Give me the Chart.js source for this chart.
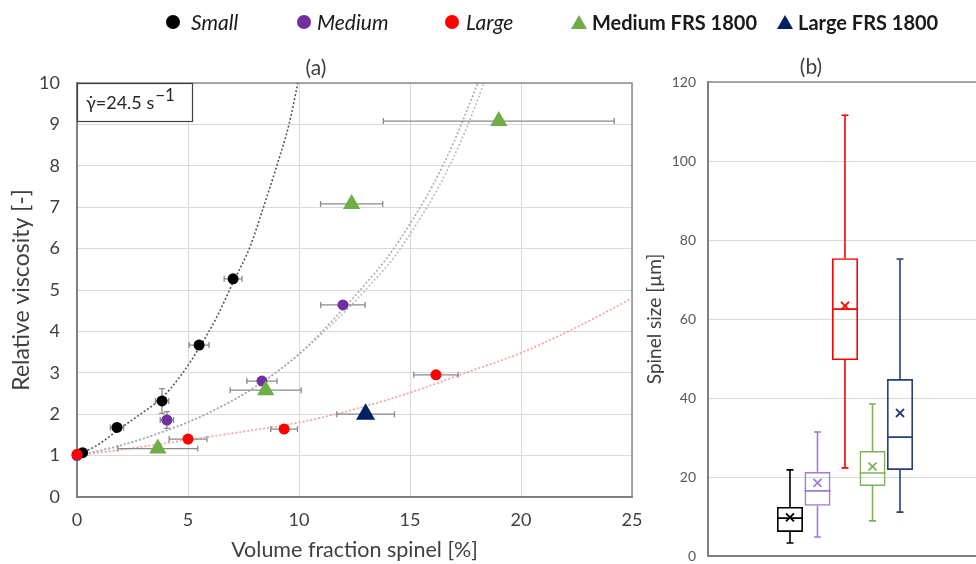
<!DOCTYPE html>
<html>
<head>
<meta charset="utf-8">
<script src="https://cdn.jsdelivr.net/npm/chart.js@4.4.1/dist/chart.umd.min.js"></script>
<style>
html,body{margin:0;padding:0;background:#fff;overflow:hidden;width:976px;height:564px;position:relative;font-family:Lato,sans-serif;}
#ca{position:absolute;left:0;top:0;}
#cb{position:absolute;left:640px;top:0;}
.lgt{position:absolute;top:10px;height:24px;line-height:24px;font-size:21px;color:#1a1a1a;white-space:nowrap;}
.dot{position:absolute;width:14px;height:14px;border-radius:50%;top:15px;}
.tri{position:absolute;width:0;height:0;border-left:8px solid transparent;border-right:8px solid transparent;border-bottom-width:14px;border-bottom-style:solid;top:15px;}
</style>
</head>
<body>
<canvas id="ca" width="660" height="564"></canvas>
<canvas id="cb" width="390" height="564"></canvas>
<div id="legend"></div>
<script>
// ---------- series names / colours ----------
const seriesNames = ['Small', 'Medium', 'Large', 'Medium FRS 1800', 'Large FRS 1800'];
const seriesColors = ['#000000', '#7030a0', '#ff0000', '#70ad47', '#002060'];
const boxColors = ['#000000', '#a07ad6', '#ff0000', '#7fb05c', '#2a3d7a'];

// ---------- panel (a) data: volume fraction [%], relative viscosity [-] ----------
const smallX = [0.25, 1.8, 3.83, 5.5, 7.03];
const smallY = [1.07, 1.68, 2.32, 3.67, 5.27];
const smallXErr = [0.2, 0.3, 0.3, 0.45, 0.4];
const smallYErr = [0, 0, 0.3, 0, 0];

const mediumX = [0, 4.05, 8.33, 11.98];
const mediumY = [1.0, 1.86, 2.8, 4.64];
const mediumXErr = [0, 0.3, 0.68, 1.0];
const mediumYErr = [0, 0.2, 0, 0];

const largeX = [0, 5.0, 9.33, 16.17];
const largeY = [1.03, 1.4, 1.64, 2.95];
const largeXErr = [0, 0.85, 0.6, 1.0];

const mFrsX = [3.64, 8.5, 12.37, 19.0];
const mFrsY = [1.17, 2.58, 7.08, 9.08];
const mFrsXErr = [1.8, 1.6, 1.4, 5.2];

const lFrsX = [13.0];
const lFrsY = [2.0];
const lFrsXErr = [1.3];

// fitted curves
const smallFitX = [0, 1, 1.8, 2.8, 3.83, 4.7, 5.5, 6.3, 7.0, 7.8, 8.4, 9.0, 9.55, 9.95];
const smallFitY = [1.0, 1.28, 1.6, 1.98, 2.4, 2.95, 3.6, 4.35, 5.15, 6.05, 7.0, 8.0, 9.0, 10.0];
const medFitAX = [0, 2, 4, 6, 8, 10, 12, 13, 14, 15, 16, 17, 17.5, 18.06];
const medFitBX = [0, 2, 4, 6, 8, 10, 12.2, 13.25, 14.3, 15.3, 16.3, 17.3, 17.8, 18.33];
const medFitY = [1.0, 1.25, 1.6, 2.05, 2.65, 3.45, 4.55, 5.15, 5.8, 6.6, 7.5, 8.6, 9.25, 10.0];
const largeFitX = [0, 2.5, 5, 7.5, 10, 12.5, 15, 17.5, 20, 22.5, 25];
const largeFitY = [1.0, 1.18, 1.38, 1.58, 1.8, 2.12, 2.52, 3.0, 3.48, 4.1, 4.8];

// axis ticks
const xTickStep = 5, xMin = 0, xMax = 25;
const yTickStep = 1, yMin = 0, yMax = 10;

// ---------- panel (b) box-plot data: spinel size [µm] ----------
const boxMin = [3.3, 4.8, 22.3, 8.9, 11.1];
const boxQ1 = [6.1, 12.7, 49.6, 17.7, 21.8];
const boxMedian = [9.6, 16.5, 62.5, 21.0, 30.1];
const boxMean = [9.8, 18.5, 63.3, 22.6, 36.2];
const boxQ3 = [12.4, 21.3, 75.4, 26.6, 44.8];
const boxMax = [21.8, 31.4, 111.6, 38.5, 75.2];
const bTickStep = 20, bMin = 0, bMax = 120;

const FONT = 'Lato';

// ---------- legend (HTML) ----------
const legendMarkerX = [173, 304, 452, 579, 785];
const legendTextX = [191, 317, 466, 592, 798];
const legendStyle = ['italic', 'italic', 'italic', 'bold', 'bold'];
const legendShape = ['dot', 'dot', 'dot', 'tri', 'tri'];
const lg = document.getElementById('legend');
seriesNames.forEach((n, i) => {
  const m = document.createElement('div');
  m.className = legendShape[i];
  if (legendShape[i] === 'dot') { m.style.left = (legendMarkerX[i] - 7) + 'px'; m.style.background = seriesColors[i]; }
  else { m.style.left = (legendMarkerX[i] - 8) + 'px'; m.style.borderBottomColor = seriesColors[i]; }
  lg.appendChild(m);
  const t = document.createElement('div');
  t.className = 'lgt';
  t.textContent = n;
  t.style.left = legendTextX[i] + 'px';
  if (legendStyle[i] === 'italic') t.style.fontStyle = 'italic'; else { t.style.fontWeight = 'bold'; t.style.fontSize = '20px'; }
  lg.appendChild(t);
});

function pts(xs, ys) { return xs.map((x, i) => ({ x: x, y: ys[i] })); }

// ---------- plugins ----------
const errorBars = {
  id: 'errorBars',
  beforeDatasetDraw(chart, args) {
    const ds = chart.data.datasets[args.index];
    if (!ds.xErr) return;
    const ctx = chart.ctx, xs = chart.scales.x, ys = chart.scales.y;
    ctx.save();
    ctx.strokeStyle = '#8a8a8a';
    ctx.lineWidth = 1.3;
    ds.data.forEach((p, i) => {
      const px = xs.getPixelForValue(p.x), py = ys.getPixelForValue(p.y);
      const ex = ds.xErr[i] || 0, ey = ds.yErr ? (ds.yErr[i] || 0) : 0;
      if (ex > 0) {
        const x1 = xs.getPixelForValue(p.x - ex), x2 = xs.getPixelForValue(p.x + ex);
        ctx.beginPath();
        ctx.moveTo(x1, py); ctx.lineTo(x2, py);
        ctx.moveTo(x1, py - 3); ctx.lineTo(x1, py + 3);
        ctx.moveTo(x2, py - 3); ctx.lineTo(x2, py + 3);
        ctx.stroke();
      }
      if (ey > 0) {
        const y1 = ys.getPixelForValue(p.y - ey), y2 = ys.getPixelForValue(p.y + ey);
        ctx.beginPath();
        ctx.moveTo(px, y1); ctx.lineTo(px, y2);
        ctx.moveTo(px - 3, y1); ctx.lineTo(px + 3, y1);
        ctx.moveTo(px - 3, y2); ctx.lineTo(px + 3, y2);
        ctx.stroke();
      }
    });
    ctx.restore();
  }
};

const frameA = {
  id: 'frameA',
  beforeDatasetsDraw(chart) {
    const ctx = chart.ctx, a = chart.chartArea;
    ctx.save();
    ctx.strokeStyle = '#8c8c8c';
    ctx.lineWidth = 1.5;
    ctx.beginPath();
    ctx.moveTo(a.left, a.top); ctx.lineTo(a.right, a.top); ctx.lineTo(a.right, a.bottom);
    ctx.stroke();
    // shear-rate label box
    const bw = 115, bh = 38;
    ctx.fillStyle = '#fff';
    ctx.fillRect(a.left, a.top, bw, bh);
    ctx.strokeStyle = '#404040';
    ctx.lineWidth = 1.2;
    ctx.strokeRect(a.left + 0.5, a.top + 0.5, bw, bh);
    ctx.fillStyle = '#262626';
    ctx.font = '18px ' + FONT;
    ctx.textBaseline = 'alphabetic';
    const txt = 'γ\u0307=24.5 s';
    const base = a.top + 26;
    ctx.fillText(txt, a.left + 9, base);
    const w = ctx.measureText(txt).width;
    ctx.font = '17px ' + FONT;
    ctx.fillText('\u22121', a.left + 9 + w + 1, base - 8);
    ctx.restore();
  }
};

const boxPlot = {
  id: 'boxPlot',
  afterDatasetsDraw(chart) {
    const ctx = chart.ctx, ys = chart.scales.y;
    ctx.save();
    chart.data.datasets.forEach((ds, i) => {
      const el = chart.getDatasetMeta(i).data[0];
      const x = el.x, hw = el.width / 2;
      const yMinP = ys.getPixelForValue(boxMin[i]), yMaxP = ys.getPixelForValue(boxMax[i]);
      const yQ1 = ys.getPixelForValue(boxQ1[i]), yQ3 = ys.getPixelForValue(boxQ3[i]);
      const yMed = ys.getPixelForValue(boxMedian[i]), yMean = ys.getPixelForValue(boxMean[i]);
      ctx.strokeStyle = boxColors[i];
      ctx.lineWidth = 1.6;
      ctx.beginPath();
      ctx.moveTo(x, yQ3); ctx.lineTo(x, yMaxP);
      ctx.moveTo(x - 3.5, yMaxP); ctx.lineTo(x + 3.5, yMaxP);
      ctx.moveTo(x, yQ1); ctx.lineTo(x, yMinP);
      ctx.moveTo(x - 3.5, yMinP); ctx.lineTo(x + 3.5, yMinP);
      ctx.moveTo(x - hw, yMed); ctx.lineTo(x + hw, yMed);
      ctx.stroke();
      ctx.lineWidth = 1.8;
      ctx.beginPath();
      const s = 4;
      ctx.moveTo(x - s, yMean - s); ctx.lineTo(x + s, yMean + s);
      ctx.moveTo(x + s, yMean - s); ctx.lineTo(x - s, yMean + s);
      ctx.stroke();
    });
    ctx.restore();
  }
};

// ---------- chart (a) ----------
const pointSets = [
  { xs: smallX, ys: smallY, xe: smallXErr, ye: smallYErr, style: 'circle', r: 5.5, order: 5 },
  { xs: mediumX, ys: mediumY, xe: mediumXErr, ye: mediumYErr, style: 'circle', r: 5.5, order: 4 },
  { xs: largeX, ys: largeY, xe: largeXErr, ye: null, style: 'circle', r: 5.5, order: 3 },
  { xs: mFrsX, ys: mFrsY, xe: mFrsXErr, ye: null, style: 'triangle', r: 10, order: 2 },
  { xs: lFrsX, ys: lFrsY, xe: lFrsXErr, ye: null, style: 'triangle', r: 11, order: 1 }
];
const datasetsA = pointSets.map((s, i) => ({
  label: seriesNames[i],
  data: pts(s.xs, s.ys),
  xErr: s.xe, yErr: s.ye,
  pointStyle: s.style, pointRadius: s.r,
  backgroundColor: seriesColors[i], borderColor: seriesColors[i], borderWidth: 0,
  showLine: false, clip: false, order: s.order
}));
const curveDefs = [
  { xs: smallFitX, ys: smallFitY, color: '#5a5a5a' },
  { xs: medFitAX, ys: medFitY, color: '#aba6c2' },
  { xs: medFitBX, ys: medFitY, color: '#bcbfb8' },
  { xs: largeFitX, ys: largeFitY, color: '#ff9a9a' }
];
curveDefs.forEach(c => datasetsA.push({
  label: 'fit',
  data: pts(c.xs, c.ys),
  showLine: true, pointRadius: 0, borderColor: c.color, borderWidth: 1.6,
  borderDash: [2, 2], cubicInterpolationMode: 'monotone', order: 10
}));

new Chart(document.getElementById('ca'), {
  type: 'scatter',
  data: { datasets: datasetsA },
  options: {
    responsive: false, animation: false, events: [],
    layout: { padding: { left: 0, right: 28, top: 0, bottom: 0 } },
    plugins: {
      legend: { display: false }, tooltip: { enabled: false },
      title: { display: true, text: '(a)', font: { family: FONT, size: 21, weight: 'normal' }, color: '#404040', padding: { top: 55.4, bottom: 2.4 } }
    },
    scales: {
      x: {
        type: 'linear', min: xMin, max: xMax,
        ticks: { stepSize: xTickStep, font: { family: FONT, size: 18 }, color: '#404040', padding: 12 },
        grid: { color: '#d9d9d9', drawTicks: false },
        border: { color: '#808080', width: 2 },
        title: { display: true, text: 'Volume fraction spinel [%]', font: { family: FONT, size: 21.5 }, color: '#404040', padding: { top: 0, bottom: 1 } },
        afterFit(s) { s.height = 67; s.paddingLeft = 0; s.paddingRight = 0; }
      },
      y: {
        min: yMin, max: yMax,
        ticks: { stepSize: yTickStep, font: { family: FONT, size: 18 }, color: '#404040', padding: 17 },
        grid: { color: '#d9d9d9', drawTicks: false },
        border: { color: '#808080', width: 2 },
        title: { display: true, text: 'Relative viscosity [-]', font: { family: FONT, size: 23 }, color: '#404040', padding: { top: 8, bottom: 0 } },
        afterFit(s) { s.width = 77; s.paddingTop = 0; s.paddingBottom = 0; }
      }
    }
  },
  plugins: [errorBars, frameA]
});

// ---------- chart (b) ----------
new Chart(document.getElementById('cb'), {
  type: 'bar',
  data: {
    labels: [''],
    datasets: seriesNames.map((n, i) => ({
      label: n,
      data: [[boxQ1[i], boxQ3[i]]],
      borderColor: boxColors[i], backgroundColor: 'rgba(255,255,255,0)',
      borderWidth: 1.6, borderSkipped: false,
      categoryPercentage: 0.502, barPercentage: 0.945
    }))
  },
  options: {
    responsive: false, animation: false, events: [],
    layout: { padding: { left: 0, right: 48, top: 0, bottom: 0 } },
    plugins: {
      legend: { display: false }, tooltip: { enabled: false },
      title: { display: true, text: '(b)', font: { family: FONT, size: 21, weight: 'normal' }, color: '#404040', padding: { top: 54.4, bottom: 2.4 } }
    },
    scales: {
      x: {
        grid: { display: false, drawTicks: false }, ticks: { display: false },
        border: { display: true, color: '#808080', width: 2 },
        afterFit(s) { s.height = 8; s.paddingLeft = 0; s.paddingRight = 0; }
      },
      y: {
        min: bMin, max: bMax,
        ticks: { stepSize: bTickStep, font: { family: FONT, size: 14 }, color: '#595959', padding: 12 },
        grid: { color: '#d9d9d9', drawTicks: false },
        border: { color: '#808080', width: 2 },
        title: { display: true, text: 'Spinel size [µm]', font: { family: FONT, size: 19 }, color: '#404040', padding: { top: 3, bottom: 0 } },
        afterFit(s) { s.width = 68; s.paddingTop = 0; s.paddingBottom = 0; }
      }
    }
  },
  plugins: [boxPlot, {
    id: 'topLine',
    afterDraw(chart) {
      const ctx = chart.ctx, a = chart.chartArea;
      ctx.save(); ctx.strokeStyle = '#8c8c8c'; ctx.lineWidth = 1.5;
      ctx.beginPath(); ctx.moveTo(a.left, a.top); ctx.lineTo(a.right, a.top); ctx.lineTo(a.right, a.bottom); ctx.stroke();
      ctx.restore();
    }
  }]
});
</script>
</body>
</html>
